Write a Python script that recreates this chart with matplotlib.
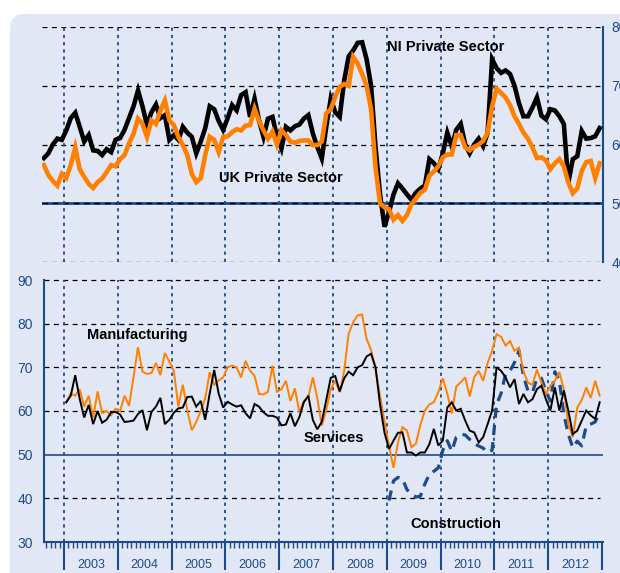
import numpy as np
import matplotlib.pyplot as plt
from matplotlib.patches import FancyBboxPatch

plt.rcParams['font.family'] = ['Liberation Sans', 'DejaVu Sans']

# monthly series, top panel Aug 2002 - Dec 2012
ni_private = [57.7, 58.5, 60.0, 61.0, 60.8,
              62.4, 64.5, 65.4, 63.0, 60.5, 61.6, 59.0, 58.9, 58.2, 59.2, 58.7, 60.8,
              61.1, 62.5, 64.5, 66.5, 69.2, 66.5, 63.3, 65.5, 66.8, 64.5, 65.0, 60.8,
              61.6, 60.8, 63.0, 62.0, 61.3, 58.5, 60.5, 62.8, 66.5, 66.0, 64.0, 62.5,
              64.5, 66.7, 65.8, 68.4, 68.9, 64.7, 67.8, 64.1, 61.3, 64.4, 64.7, 61.3,
              59.3, 63.0, 62.4, 63.1, 63.4, 64.4, 65.0, 61.9, 59.6, 57.6, 63.0, 67.8,
              65.5, 64.7, 70.9, 75.0, 76.0, 77.3, 77.4, 74.5, 70.0, 59.5, 51.5, 46.0,
              48.5, 51.5, 53.4, 52.5, 51.5, 50.6, 51.8, 52.5, 53.0, 57.5, 56.8, 55.8,
              58.5, 62.0, 59.7, 62.5, 63.5, 60.0, 58.5, 60.0, 61.0, 59.7, 62.0, 74.5,
              73.0, 72.2, 72.6, 72.0, 70.0, 67.0, 64.8, 64.8, 66.3, 68.0, 64.9, 64.3,
              66.0, 65.8, 64.8, 63.5, 53.5, 57.5, 58.0, 62.3, 61.0, 61.1, 61.4, 62.8]
uk_private = [56.5, 54.8, 53.8, 53.0, 55.0,
              54.3, 56.5, 59.5, 55.8, 54.5, 53.3, 52.6, 53.6, 54.2, 55.3, 56.5, 56.3,
              57.5, 58.2, 60.2, 61.8, 64.4, 63.5, 61.3, 64.1, 63.5, 65.8, 67.5, 64.1,
              63.3, 61.3, 59.9, 58.2, 55.0, 53.6, 54.3, 58.2, 61.3, 60.8, 58.7, 61.3,
              61.4, 62.1, 62.6, 62.4, 63.2, 63.3, 66.1, 64.0, 62.4, 61.0, 62.2, 60.0,
              62.4, 61.6, 60.5, 60.3, 60.6, 60.7, 60.7, 59.9, 59.9, 60.5, 65.3, 66.0,
              68.1, 69.8, 70.3, 70.0, 74.9, 73.8, 72.0, 70.0, 66.0, 56.0, 50.0, 49.3,
              49.0, 47.2, 48.0, 47.0, 48.0, 49.8, 50.8, 51.8, 52.3, 54.7, 55.4, 56.3,
              57.8, 58.3, 58.3, 61.6, 61.6, 59.5, 59.0, 59.6, 60.0, 60.6, 62.0, 66.5,
              69.5, 68.8, 68.0, 66.7, 64.8, 63.5, 62.0, 61.0, 59.5, 57.7, 57.8, 57.3,
              55.8, 56.8, 57.5, 56.3, 53.5, 51.7, 52.5, 55.5, 57.0, 57.2, 54.3, 56.8]

# bottom panel Jan 2003 - Dec 2012
manufacturing = [62, 64, 63.5, 65, 61, 63.5, 58.5, 64.5, 59.5, 60, 59, 60.5,
                 60, 63.5, 61.2, 67.7, 74.6, 69, 68.5, 68.7, 71, 68.2, 73.3, 71.3,
                 69.2, 61, 66, 60.2, 55.6, 57.5, 60, 62.8, 68.9, 66, 67, 67.7,
                 70, 70.4, 70, 67.7, 71.5, 69.2, 68.1, 63.9, 63.8, 64.4, 70.4, 64.4,
                 65, 66.9, 62.3, 65.2, 59.7, 62.3, 63.1, 67.7, 63, 56.6, 60.2, 65,
                 66.9, 64.3, 69.2, 77.7, 80.3, 81.9, 82.1, 76.5, 74, 69.5, 63.5, 57.5,
                 52, 47, 52.8, 56.3, 55.5, 51.7, 52.5, 56.8, 60.1, 61.5, 62, 64.3,
                 67.5, 64, 59.4, 65.6, 66.6, 67.7, 63.3, 67.7, 69.2, 66.9, 71, 73.8,
                 77.6, 77, 75, 76, 73.8, 74.5, 69, 66.5, 66, 69.5, 66.5, 63.9,
                 65.8, 66.9, 68.9, 65, 57, 54, 60.8, 62.5, 65.4, 63, 66.9, 63.5]
services = [62, 63.5, 68.2, 62.8, 58.5, 61.4, 57, 60, 57.3, 58, 59.7, 59.8,
            59.2, 57.5, 57.6, 57.8, 59.3, 60.2, 55.6, 59.8, 61, 63, 57, 58,
            59.6, 60.6, 60.8, 63.2, 63.3, 61, 62.3, 58, 64, 69.4, 64, 60.8,
            62.1, 61.5, 61, 61.3, 59.5, 58.3, 61.6, 61, 59.7, 58.9, 58.9, 58.5,
            56.7, 56.9, 59.5, 56.5, 58.6, 62, 63.5, 58, 55.8, 57.5, 62.5, 67.6,
            68, 64.5, 67.5, 69, 68.2, 70, 70.5, 72.5, 73.1, 70, 61.5, 55,
            51.3, 53.2, 55, 55.1, 50.5, 50.5, 49.8, 50.5, 50.5, 52.4, 55.9, 52.1,
            53.2, 60.8, 62, 60.1, 60.5, 57.8, 55.5, 55.1, 52.8, 54, 57, 60.1,
            70, 69.2, 67.7, 65.4, 67.3, 61.6, 63.9, 62, 62.7, 65, 65.8, 62.7,
            60.1, 65.4, 60.1, 64.7, 60.1, 54.7, 55.5, 57.8, 60.1, 59, 58.2, 62]
# Jan 2009 - Dec 2012
construction = [39.5, 44, 44.8, 44.5, 42, 41, 40.3, 40.5, 43.3, 45.5, 46.2, 47,
                51, 53.2, 50.8, 54, 54.7, 54.5, 53.5, 52.5, 52, 51.5, 50.5, 51,
                61.5, 64, 68.5, 69.2, 71.1, 73.8, 68, 64.6, 64.2, 67.5, 67.5, 64.6,
                62.3, 69, 67, 59.3, 54.7, 51.6, 53.1, 52, 56.6, 57, 57.5, 59.7]

years = list(range(2003, 2013))

navy = '#1c4b8c'
orange = '#ff8000'
bg = '#e1e7f4'

t_top = 2003 + (np.arange(-5, 120) + 0.5) / 12
t_bot = 2003 + (np.arange(120) + 0.5) / 12
t_con = t_bot[72:]

W, H = 620, 573
fig = plt.figure(figsize=(6.2, 5.73), dpi=100)
fig.patch.set_facecolor('white')


def box(x0, y0, x1, y1):
    return [x0 / W, 1 - y1 / H, (x1 - x0) / W, (y1 - y0) / H]


fig.patches.append(FancyBboxPatch((0.10, -0.3), 6.5, 5.89,
                                  boxstyle='round,pad=0,rounding_size=0.15',
                                  transform=fig.dpi_scale_trans,
                                  facecolor=bg, edgecolor='none', zorder=-10))

dash_h = (0, (4, 3.5))
dot_v = (0, (1.8, 2.2))

# top panel
ax1 = fig.add_axes(box(42, 27, 603, 262))
ax1.patch.set_alpha(0)
ax1.set_xlim(2002.59, 2013.02)
ax1.set_ylim(40, 80)
for s in ['top', 'left', 'bottom']:
    ax1.spines[s].set_visible(False)
ax1.spines['right'].set_color(navy)
ax1.spines['right'].set_linewidth(1.5)
ax1.yaxis.tick_right()
ax1.set_yticks([40, 50, 60, 70, 80])
ax1.tick_params(axis='y', length=0, pad=6, labelsize=10, labelcolor=navy)
ax1.set_xticks([])
for v in [40, 60, 70, 80]:
    ax1.axhline(v, xmax=0.995, color='black', lw=0.9, ls=dash_h, zorder=1)
ax1.axhline(50, color=navy, lw=2.0, zorder=1)
ax1.axhline(50, color='black', lw=1.0, ls=dash_h, zorder=1)
for y in years:
    ax1.axvline(y, color=navy, lw=1.3, ls=dot_v, zorder=1)
ax1.plot(t_top, ni_private, color='black', lw=3.3, zorder=3,
         solid_joinstyle='miter')
ax1.plot(t_top, uk_private, color=orange, lw=3.3, zorder=4,
         solid_joinstyle='miter')
ax1.text(2010.1, 76.6, 'NI Private Sector', fontsize=10.5, fontweight='bold',
         ha='center', va='center')
ax1.text(2007.04, 54.3, 'UK Private Sector', fontsize=10.5, fontweight='bold',
         ha='center', va='center')

# bottom panel
ax2 = fig.add_axes(box(44, 280, 603, 542))
ax2.patch.set_alpha(0)
ax2.set_xlim(2002.628, 2013.02)
ax2.set_ylim(30, 90)
for s in ['top', 'right']:
    ax2.spines[s].set_visible(False)
for s in ['left', 'bottom']:
    ax2.spines[s].set_color(navy)
    ax2.spines[s].set_linewidth(1.5)
ax2.set_yticks([30, 40, 50, 60, 70, 80, 90])
ax2.tick_params(axis='y', length=0, pad=8, labelsize=10, labelcolor=navy)
ax2.set_xticks(range(2003, 2014))
ax2.set_xticks(np.arange(2002 + 8 / 12, 2013.01, 1 / 12), minor=True)
ax2.tick_params(axis='x', which='major', length=20, width=1.5, color=navy,
                labelbottom=False)
ax2.tick_params(axis='x', which='minor', length=4.5, width=1.0, color=navy)
for y in years:
    ax2.text(y + 0.5, -0.088, str(y), transform=ax2.get_xaxis_transform(),
             ha='center', va='center', fontsize=9, color=navy)
for v in [40, 60, 70, 80, 90]:
    ax2.axhline(v, xmax=0.995, color='black', lw=0.9, ls=dash_h, zorder=1,
                clip_on=False)
ax2.axhline(50, color=navy, lw=1.2, zorder=1)
for y in years:
    ax2.axvline(y, color=navy, lw=1.3, ls=dot_v, zorder=1)
ax2.plot(t_con, construction, color=navy, lw=2.3, ls=(0, (3.2, 2.2)), zorder=2)
ax2.plot(t_bot, manufacturing, color=orange, lw=1.4, zorder=3,
         solid_joinstyle='miter')
ax2.plot(t_bot, services, color='black', lw=1.4, zorder=4,
         solid_joinstyle='miter')
ax2.text(2004.36, 77.4, 'Manufacturing', fontsize=10.5, fontweight='bold',
         ha='center', va='center')
ax2.text(2008.01, 53.8, 'Services', fontsize=10.5, fontweight='bold',
         ha='center', va='center')
ax2.text(2010.28, 34.1, 'Construction', fontsize=10.5, fontweight='bold',
         ha='center', va='center')

fig.savefig('out.png', dpi=100)
